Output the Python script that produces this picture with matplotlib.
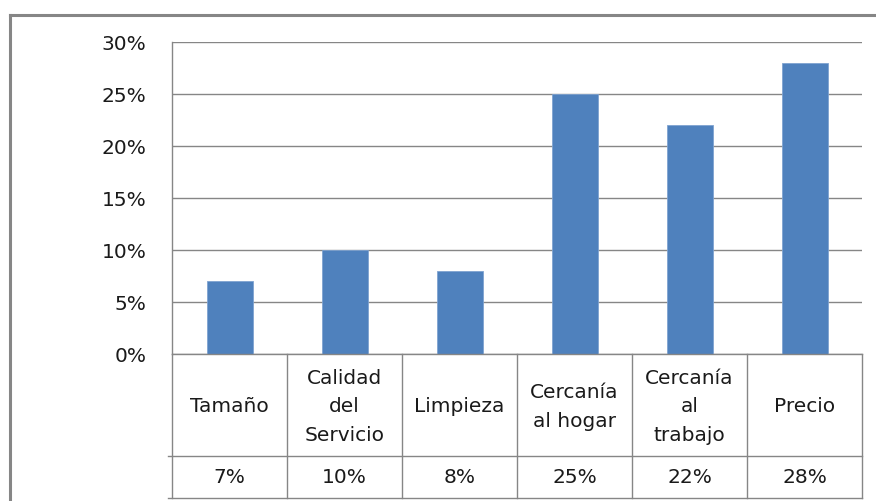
import matplotlib

matplotlib.use("Agg")

import matplotlib.pyplot as plt
from matplotlib.lines import Line2D
from matplotlib.ticker import PercentFormatter

# datos
CATEGORIES = ["Tamaño", "Calidad\ndel\nServicio", "Limpieza", "Cercanía\nal hogar", "Cercanía\nal\ntrabajo", "Precio"]
VALUES = [0.07, 0.10, 0.08, 0.25, 0.22, 0.28]
VALUE_LABELS = ["7%", "10%", "8%", "25%", "22%", "28%"]
Y_TICKS = [0.0, 0.05, 0.10, 0.15, 0.20, 0.25, 0.30]

W, H = 876, 502
BAR_COLOR = "#4F81BD"
LINE_COLOR = "#868686"
TEXT_COLOR = "#1a1a1a"
FONT_SIZE = 14.5

plt.rcParams["font.family"] = ["DejaVu Sans"]


def px_box(x0, y0, x1, y1):
    # píxeles (origen arriba a la izquierda) -> coordenadas de figura
    return [x0 / W, 1 - y1 / H, (x1 - x0) / W, (y1 - y0) / H]


fig = plt.figure(figsize=(W / 100, H / 100), dpi=100)
fig.patch.set_facecolor("white")

# marco exterior (solo borde superior e izquierdo visibles)
fig.add_artist(Line2D([10 / W, 1], [1 - 16 / H, 1 - 16 / H], color=LINE_COLOR, lw=2.2))
fig.add_artist(Line2D([10 / W, 10 / W], [1 - 16 / H, 0], color=LINE_COLOR, lw=2.2))

ax = fig.add_axes(px_box(172, 43, 862, 355))
n = len(VALUES)
ax.bar(range(n), VALUES, width=0.4, color=BAR_COLOR, edgecolor="#7FA3D0", linewidth=0.6, zorder=3)
ax.set_xlim(-0.5, n - 0.5)
ax.set_ylim(0, 0.30)
ax.set_yticks(Y_TICKS)
ax.yaxis.set_major_formatter(PercentFormatter(1.0, decimals=0))
ax.tick_params(axis="y", length=0, pad=18.5, labelsize=FONT_SIZE, labelcolor=TEXT_COLOR)
ax.set_xticks([])
ax.grid(True, axis="y", color=LINE_COLOR, linewidth=1.0, zorder=0)
for side in ["top", "right", "bottom"]:
    ax.spines[side].set_visible(False)
ax.spines["left"].set_color(LINE_COLOR)
ax.spines["left"].set_linewidth(1.0)

# tabla de datos bajo el gráfico
tab = fig.add_axes(px_box(172, 355, 862, 499))
tab.set_xlim(-0.5, n - 0.5)
tab.set_ylim(144, 0)
tab.axis("off")
ext = -4 / 115
for y in [0, 102, 144]:
    x_start = -0.5 + (ext if y > 0 else 0)
    tab.plot([x_start, n - 0.5], [y, y], color=LINE_COLOR, lw=1.0, clip_on=False)
for i in range(n + 1):
    tab.plot([i - 0.5, i - 0.5], [0, 144], color=LINE_COLOR, lw=1.0, clip_on=False)
for i, (cat, lab) in enumerate(zip(CATEGORIES, VALUE_LABELS)):
    tab.text(i, 52, cat, ha="center", va="center", fontsize=FONT_SIZE,
             color=TEXT_COLOR, linespacing=1.66)
    tab.text(i, 123, lab, ha="center", va="center", fontsize=FONT_SIZE, color=TEXT_COLOR)

fig.savefig("out.png", dpi=100, facecolor="white")
